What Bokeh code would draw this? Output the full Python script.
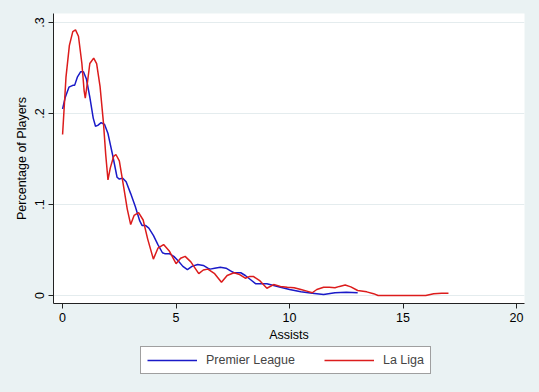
from bokeh.plotting import figure
from bokeh.layouts import column
from bokeh.models import Range1d, FixedTicker, Legend, LegendItem
from bokeh.embed import file_html
from bokeh.resources import INLINE

# ---- data ----
pl_x = [0.0, 0.12, 0.28, 0.45, 0.53, 0.65, 0.8, 0.92, 1.05, 1.2, 1.35, 1.45, 1.55, 1.7, 1.85,
        2.0, 2.2, 2.4, 2.5, 2.65, 2.8, 3.0, 3.2, 3.4, 3.5, 3.65, 3.8, 4.0, 4.2, 4.4, 4.5, 4.7,
        4.9, 5.1, 5.3, 5.5, 5.7, 5.95, 6.2, 6.4, 6.5, 6.7, 6.95, 7.2, 7.4, 7.55, 7.85, 8.05,
        8.3, 8.5, 9.0, 9.3, 9.6, 10.0, 10.5, 11.0, 11.5, 12.0, 12.5, 13.0]
pl_y = [0.205, 0.218, 0.229, 0.231, 0.231, 0.240, 0.246, 0.246, 0.238, 0.218, 0.195, 0.186,
        0.187, 0.190, 0.188, 0.178, 0.155, 0.130, 0.128, 0.129, 0.125, 0.112, 0.098, 0.082,
        0.077, 0.077, 0.074, 0.066, 0.056, 0.047, 0.046, 0.046, 0.043, 0.038, 0.032, 0.0285,
        0.032, 0.034, 0.033, 0.030, 0.029, 0.030, 0.031, 0.030, 0.027, 0.025, 0.025, 0.022,
        0.017, 0.013, 0.013, 0.011, 0.009, 0.0065, 0.004, 0.0025, 0.001, 0.003, 0.0035, 0.003]

ll_x = [0.0, 0.15, 0.3, 0.45, 0.57, 0.7, 0.85, 0.95, 1.0, 1.1, 1.2, 1.37, 1.5, 1.65, 1.8, 1.9,
        2.0, 2.1, 2.25, 2.35, 2.5, 2.7, 2.85, 3.0, 3.15, 3.35, 3.55, 3.75, 4.0, 4.2, 4.45, 4.7,
        5.0, 5.2, 5.4, 5.65, 6.0, 6.2, 6.4, 6.7, 7.0, 7.25, 7.55, 7.8, 8.05, 8.25, 8.4, 8.7,
        9.0, 9.3, 9.6, 9.9, 10.2, 10.5, 10.8, 11.0, 11.2, 11.5, 11.75, 12.0, 12.2, 12.45,
        12.7, 13.0, 13.4, 13.7, 13.9, 14.5, 15.0, 15.5, 16.0, 16.35, 16.7, 17.0]
ll_y = [0.177, 0.240, 0.275, 0.290, 0.292, 0.285, 0.255, 0.225, 0.217, 0.235, 0.255, 0.261,
        0.255, 0.230, 0.190, 0.155, 0.127, 0.140, 0.153, 0.155, 0.148, 0.118, 0.095, 0.078,
        0.088, 0.091, 0.083, 0.062, 0.040, 0.052, 0.056, 0.049, 0.035, 0.041, 0.043, 0.037,
        0.024, 0.028, 0.029, 0.024, 0.0145, 0.022, 0.025, 0.023, 0.019, 0.021, 0.021, 0.016,
        0.008, 0.012, 0.010, 0.009, 0.0085, 0.0066, 0.0045, 0.003, 0.0066, 0.009, 0.009,
        0.0085, 0.010, 0.0115, 0.0095, 0.0055, 0.004, 0.002, 0.0, 0.0, 0.0, 0.0, 0.0, 0.002,
        0.0025, 0.0025]

x_ticks = [0, 5, 10, 15, 20]
y_ticks = [0, 0.1, 0.2, 0.3]
y_tick_labels = ["0", ".1", ".2", ".3"]
series_names = ["Premier League", "La Liga"]
series_colors = ["#1a1ac8", "#dc1c1c"]

BG = "#eaf2f3"
FONT = "Liberation Sans"
FS = "12.5px"

p = figure(width=539, height=345, output_backend="svg", toolbar_location=None,
           x_range=Range1d(-0.4, 20.35), y_range=Range1d(-0.0088, 0.31),
           min_border_left=53, min_border_right=15, min_border_top=13, min_border_bottom=42)
p.background_fill_color = "white"
p.border_fill_color = BG
p.outline_line_color = None

p.line(pl_x, pl_y, line_color=series_colors[0], line_width=1.5)
p.line(ll_x, ll_y, line_color=series_colors[1], line_width=1.5)

p.xaxis.ticker = FixedTicker(ticks=x_ticks)
p.yaxis.ticker = FixedTicker(ticks=y_ticks)
p.yaxis.major_label_overrides = {t: s for t, s in zip(y_ticks, y_tick_labels)}
p.yaxis.major_label_orientation = "vertical"

for ax in (p.xaxis[0], p.yaxis[0]):
    ax.axis_line_color = "#222222"
    ax.axis_line_width = 1
    ax.major_tick_line_color = "#222222"
    ax.major_tick_in = 0
    ax.major_tick_out = 5
    ax.minor_tick_line_color = None
    ax.major_label_text_font = FONT
    ax.major_label_text_font_size = FS
    ax.major_label_text_color = "black"
    ax.axis_label_text_font = FONT
    ax.axis_label_text_font_size = FS
    ax.axis_label_text_font_style = "normal"
    ax.axis_label_text_color = "black"
    ax.major_label_standoff = 4
    ax.axis_label_standoff = 4

p.xaxis.axis_label_standoff = 3
p.xaxis.axis_label = "Assists"
p.yaxis.axis_label = "Percentage of Players"

p.xgrid.grid_line_color = None
p.ygrid.grid_line_color = "#e4ecee"
p.ygrid.grid_line_width = 1

# legend strip below the chart: same series, drawn out of view, used as legend keys
lg = figure(width=539, height=47, output_backend="svg", toolbar_location=None,
            x_axis_type=None, y_axis_type=None,
            x_range=Range1d(-0.4, 20.35), y_range=Range1d(1, 2),
            min_border_left=53, min_border_right=15, min_border_top=0, min_border_bottom=0)
lg.background_fill_color = BG
lg.border_fill_color = BG
lg.outline_line_color = None
k1 = lg.line(pl_x, pl_y, line_color=series_colors[0], line_width=1.5)
k2 = lg.line(ll_x, ll_y, line_color=series_colors[1], line_width=1.5)

legend = Legend(items=[LegendItem(label=series_names[0], renderers=[k1]),
                       LegendItem(label=series_names[1], renderers=[k2])],
                orientation="horizontal", location=(87, 18), margin=0,
                glyph_width=50, glyph_height=14, label_height=14,
                label_standoff=9, spacing=29, padding=6,
                label_text_font=FONT, label_text_font_size=FS,
                border_line_color="#404040", border_line_width=1.3,
                background_fill_color="white", background_fill_alpha=1.0)
lg.add_layout(legend, "center")

layout = column(p, lg, spacing=0)
html = file_html(layout, INLINE)
html = html.replace("<head>", "<head><style>html,body{margin:0;padding:0;background:%s;overflow:hidden;}</style>" % BG, 1)
open("out.html", "w").write(html)
